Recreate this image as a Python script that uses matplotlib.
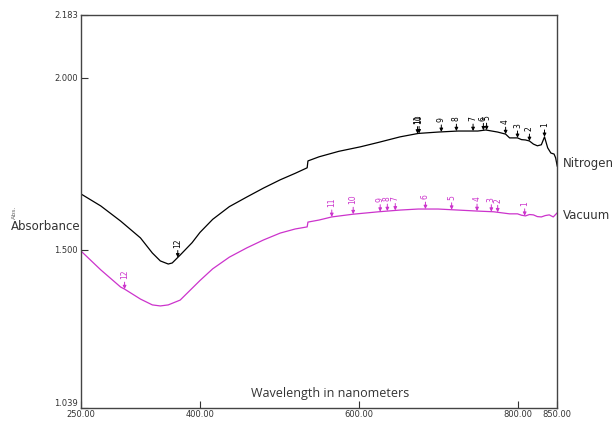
import numpy as np
import matplotlib
matplotlib.use('Agg')
import matplotlib.pyplot as plt

plt.rcParams['font.family'] = ['DejaVu Sans']

# Nitrogen spectrum (wavelength nm, absorbance)
n2_wl = [250, 275, 300, 325, 340, 350, 360, 365, 375, 390, 400, 416, 437, 459, 480,
         501, 520, 535, 536, 550, 575, 602, 625, 652, 675, 700, 725, 750, 760, 775,
         785, 790, 800, 805, 810, 815, 820, 825, 830, 834, 838, 842, 846, 848, 850]
n2_abs = [1.662, 1.627, 1.583, 1.534, 1.490, 1.467, 1.458, 1.461, 1.484, 1.520, 1.550,
          1.588, 1.625, 1.653, 1.679, 1.703, 1.722, 1.738, 1.758, 1.770, 1.786, 1.799,
          1.812, 1.828, 1.838, 1.842, 1.845, 1.845, 1.848, 1.842, 1.836, 1.825, 1.825,
          1.820, 1.819, 1.816, 1.807, 1.802, 1.805, 1.828, 1.796, 1.781, 1.778, 1.767,
          1.743]

# Vacuum spectrum
vac_wl = [250, 275, 300, 305, 325, 340, 350, 360, 375, 400, 416, 437, 459, 480, 501,
          520, 535, 536, 550, 566, 593, 625, 652, 675, 700, 725, 750, 770, 790, 800,
          805, 810, 815, 820, 825, 830, 835, 840, 845, 850]
vac_abs = [1.496, 1.441, 1.391, 1.385, 1.356, 1.339, 1.336, 1.339, 1.353, 1.410, 1.444,
           1.478, 1.505, 1.528, 1.548, 1.560, 1.566, 1.580, 1.586, 1.595, 1.603, 1.610,
           1.615, 1.618, 1.618, 1.615, 1.612, 1.610, 1.604, 1.604, 1.600, 1.598, 1.602,
           1.601, 1.596, 1.595, 1.599, 1.601, 1.595, 1.607]

# peak markers (label -> wavelength)
n2_peaks = {12: 372, 11: 674, 10: 676, 9: 704, 8: 723, 7: 744, 6: 757, 5: 761,
            4: 785, 3: 800, 2: 815, 1: 834}
vac_peaks = {12: 305, 11: 566, 10: 593, 9: 627, 8: 636, 7: 646, 6: 684, 5: 717,
             4: 749, 3: 767, 2: 775, 1: 809}

magenta = '#cc33cc'

fig = plt.figure(figsize=(6.13, 4.25), dpi=100)
ax = fig.add_axes([0.132, 0.04, 0.777, 0.925])

ax.plot(n2_wl, n2_abs, color='black', lw=0.9)
ax.plot(vac_wl, vac_abs, color=magenta, lw=0.9)


def mark(peaks, wl, ab, color):
    for lab, x in peaks.items():
        y = np.interp(x, wl, ab)
        ax.annotate(str(lab), xy=(x, y), xytext=(0, 7), textcoords='offset points',
                    ha='center', va='bottom', rotation=90, fontsize=5.5, color=color,
                    arrowprops=dict(arrowstyle='-|>', lw=0.7, color=color,
                                    shrinkA=0, shrinkB=0, mutation_scale=5))


mark(n2_peaks, n2_wl, n2_abs, 'black')
mark(vac_peaks, vac_wl, vac_abs, magenta)

ax.set_xlim(250, 850)
ax.set_ylim(1.039, 2.183)
ax.set_xticks([250, 400, 600, 800, 850])
ax.set_xticklabels(['250.00', '400.00', '600.00', '800.00', '850.00'])
ax.set_yticks([1.039, 1.5, 2.0, 2.183])
ax.set_yticklabels(['1.039', '1.500', '2.000', '2.183'])
ax.tick_params(direction='in', length=5, width=0.8, labelsize=6, colors='#333333')
ax.tick_params(axis='x', pad=1.5)
ax.tick_params(axis='y', pad=2)
ax.get_yticklabels()[0].set_va('bottom')
for s in ax.spines.values():
    s.set_color('#444444')
    s.set_linewidth(1.0)

fig.text(0.131, 0.466, 'Absorbance', ha='right', va='center', fontsize=8.5, color='#333333')
fig.text(0.023, 0.50, 'Abs.', ha='center', va='center', rotation=90, fontsize=4.5, color='#666666')
fig.text(0.918, 0.616, 'Nitrogen', ha='left', va='center', fontsize=8.5, color='#333333')
fig.text(0.918, 0.492, 'Vacuum', ha='left', va='center', fontsize=8.5, color='#333333')
ax.text(0.523, 0.038, 'Wavelength in nanometers', transform=ax.transAxes, ha='center',
        va='center', fontsize=9, color='#333333', family=['Open Sans', 'DejaVu Sans'])

fig.savefig('out.png', dpi=100)
